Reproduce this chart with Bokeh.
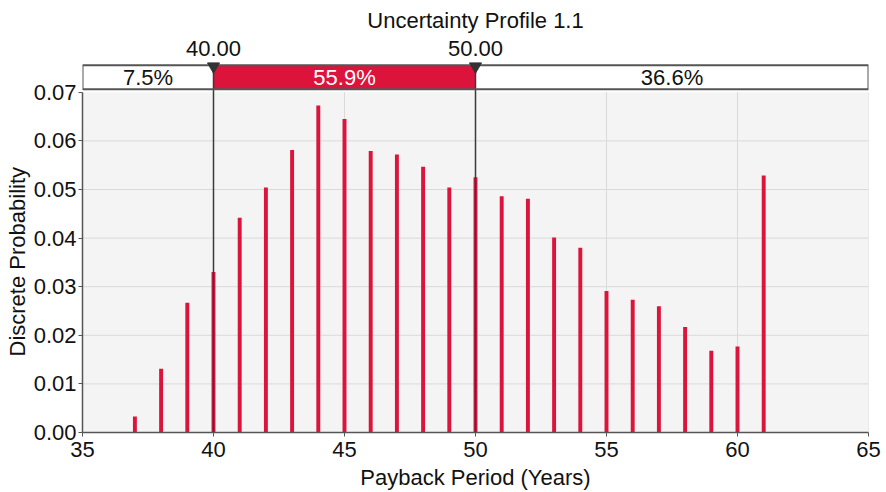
from bokeh.plotting import figure
from bokeh.models import Range1d, FixedTicker, PrintfTickFormatter, ColumnDataSource, Title
from bokeh.core.properties import value
from bokeh.embed import file_html
from bokeh.resources import INLINE

# ---------------- data ----------------
TITLE = "Uncertainty Profile 1.1"
X_LABEL = "Payback Period (Years)"
Y_LABEL = "Discrete Probability"
YEARS = list(range(37, 62))
PROB = [0.0033, 0.0131, 0.0267, 0.0330, 0.0442, 0.0504, 0.0581, 0.0673,
        0.0645, 0.0579, 0.0572, 0.0547, 0.0504, 0.0525, 0.0486, 0.0481,
        0.0401, 0.0380, 0.0291, 0.0273, 0.0260, 0.0217, 0.0168, 0.0177,
        0.0529]
X_TICKS = [35, 40, 45, 50, 55, 60, 65]
Y_TICKS = [0.00, 0.01, 0.02, 0.03, 0.04, 0.05, 0.06, 0.07]
THRESHOLDS = [40.0, 50.0]
BAND_PCT = ["7.5%", "55.9%", "36.6%"]

# ---------------- layout ----------------
W, H = 886, 492
B_LEFT, B_RIGHT, B_BOTTOM = 82, 18, 59
FRAME_BOTTOM = H - B_BOTTOM          # pixel row of y = 0
TOP_LINE = 92                        # pixel row of the top tick line
YMAX = Y_TICKS[-1]
x0, x1 = X_TICKS[0], X_TICKS[-1]


def ydat(px):
    """pixel row (from top) -> data y"""
    return (FRAME_BOTTOM - px) / (FRAME_BOTTOM - TOP_LINE) * YMAX


FONT = "Liberation Sans"
FS = "22px"
RED = "#dc143c"
DARK = "#3a3a3a"
TXT = "#111111"

p = figure(width=W, height=H, output_backend="svg", toolbar_location=None,
           x_range=Range1d(x0, x1), y_range=Range1d(0, ydat(0)),
           min_border_left=B_LEFT, min_border_right=B_RIGHT,
           min_border_bottom=B_BOTTOM, min_border_top=0)
p.title.visible = False
p.outline_line_color = None
p.background_fill_color = "white"
p.border_fill_color = "white"
p.xgrid.visible = False
p.ygrid.visible = False

# plot area background
p.quad(left=[x0], right=[x1], bottom=[0], top=[YMAX],
       fill_color="#f4f4f4", line_color=None)
# grid lines
gy = Y_TICKS[1:-1]
p.segment(x0=[x0] * len(gy), x1=[x1] * len(gy), y0=gy, y1=gy,
          line_color="#d9d9d9", line_width=1)
gx = X_TICKS[1:]
p.segment(x0=gx, x1=gx, y0=[0] * len(gx), y1=[YMAX] * len(gx),
          line_color="#d9d9d9", line_width=1)

# bars
p.vbar(x=YEARS, top=PROB, bottom=0, width=0.15, fill_color=RED, line_color=None)

# band
band_top, band_bot = ydat(65), ydat(89)
lefts = [x0] + THRESHOLDS
rights = THRESHOLDS + [x1]
p.quad(left=lefts, right=rights, bottom=[band_bot] * 3, top=[band_top] * 3,
       fill_color=["white", RED, "white"], line_color=None)

# threshold lines
p.segment(x0=THRESHOLDS, x1=THRESHOLDS, y0=[0, 0], y1=[band_top] * 2,
          line_color=DARK, line_width=1.5)

# band outline
p.quad(left=[x0], right=[x1], bottom=[band_bot], top=[band_top],
       fill_color=None, line_color="#555555", line_width=2)

# markers
p.scatter(x=THRESHOLDS, y=[ydat(66)] * 2, marker="inverted_triangle", size=12,
          fill_color="#333333", line_color="#333333")

# texts
p.text(x=THRESHOLDS, y=[ydat(48)] * 2, text=["%.2f" % t for t in THRESHOLDS],
       text_font=value(FONT), text_font_size=FS, text_color=TXT,
       text_align="center", text_baseline="middle")
mids = [(a + b) / 2 for a, b in zip(lefts, rights)]
src = ColumnDataSource(dict(x=mids, y=[ydat(77)] * 3, t=BAND_PCT,
                            c=[TXT, "white", TXT]))
p.text(x="x", y="y", text="t", source=src, text_color="c",
       text_font=value(FONT), text_font_size=FS,
       text_align="center", text_baseline="middle")
p.text(x=[(x0 + x1) / 2], y=[ydat(20)], text=[TITLE],
       text_font=value(FONT), text_font_size=FS, text_color=TXT,
       text_align="center", text_baseline="middle")

# axes
p.xaxis.ticker = FixedTicker(ticks=X_TICKS)
p.yaxis.ticker = FixedTicker(ticks=Y_TICKS)
p.yaxis.formatter = PrintfTickFormatter(format="%.2f")
p.yaxis.bounds = (0, YMAX)
p.xaxis.bounds = (x0, x1)
p.xaxis.axis_label = X_LABEL
for ax in (p.xaxis, p.yaxis):
    ax.axis_line_color = "#555555"
    ax.axis_line_width = 1.5
    ax.major_tick_line_color = "#555555"
    ax.major_tick_out = 4
    ax.major_tick_in = 0
    ax.minor_tick_line_color = None
    ax.major_label_text_font = FONT
    ax.major_label_text_font_size = FS
    ax.major_label_text_color = TXT
    ax.axis_label_text_font = FONT
    ax.axis_label_text_font_size = FS
    ax.axis_label_text_font_style = "normal"
    ax.axis_label_text_color = TXT
p.xaxis.major_label_standoff = 5
p.xaxis.axis_label_standoff = 5
p.yaxis.major_label_standoff = 2

# y axis title, placed so that it is centred on the 0..YMAX span
p.add_layout(Title(text=Y_LABEL, align="left", offset=76,
                   text_font=FONT, text_font_size=FS, text_font_style="normal",
                   text_color=TXT, standoff=2), "left")

open("out.html", "w").write(file_html(p, INLINE))
